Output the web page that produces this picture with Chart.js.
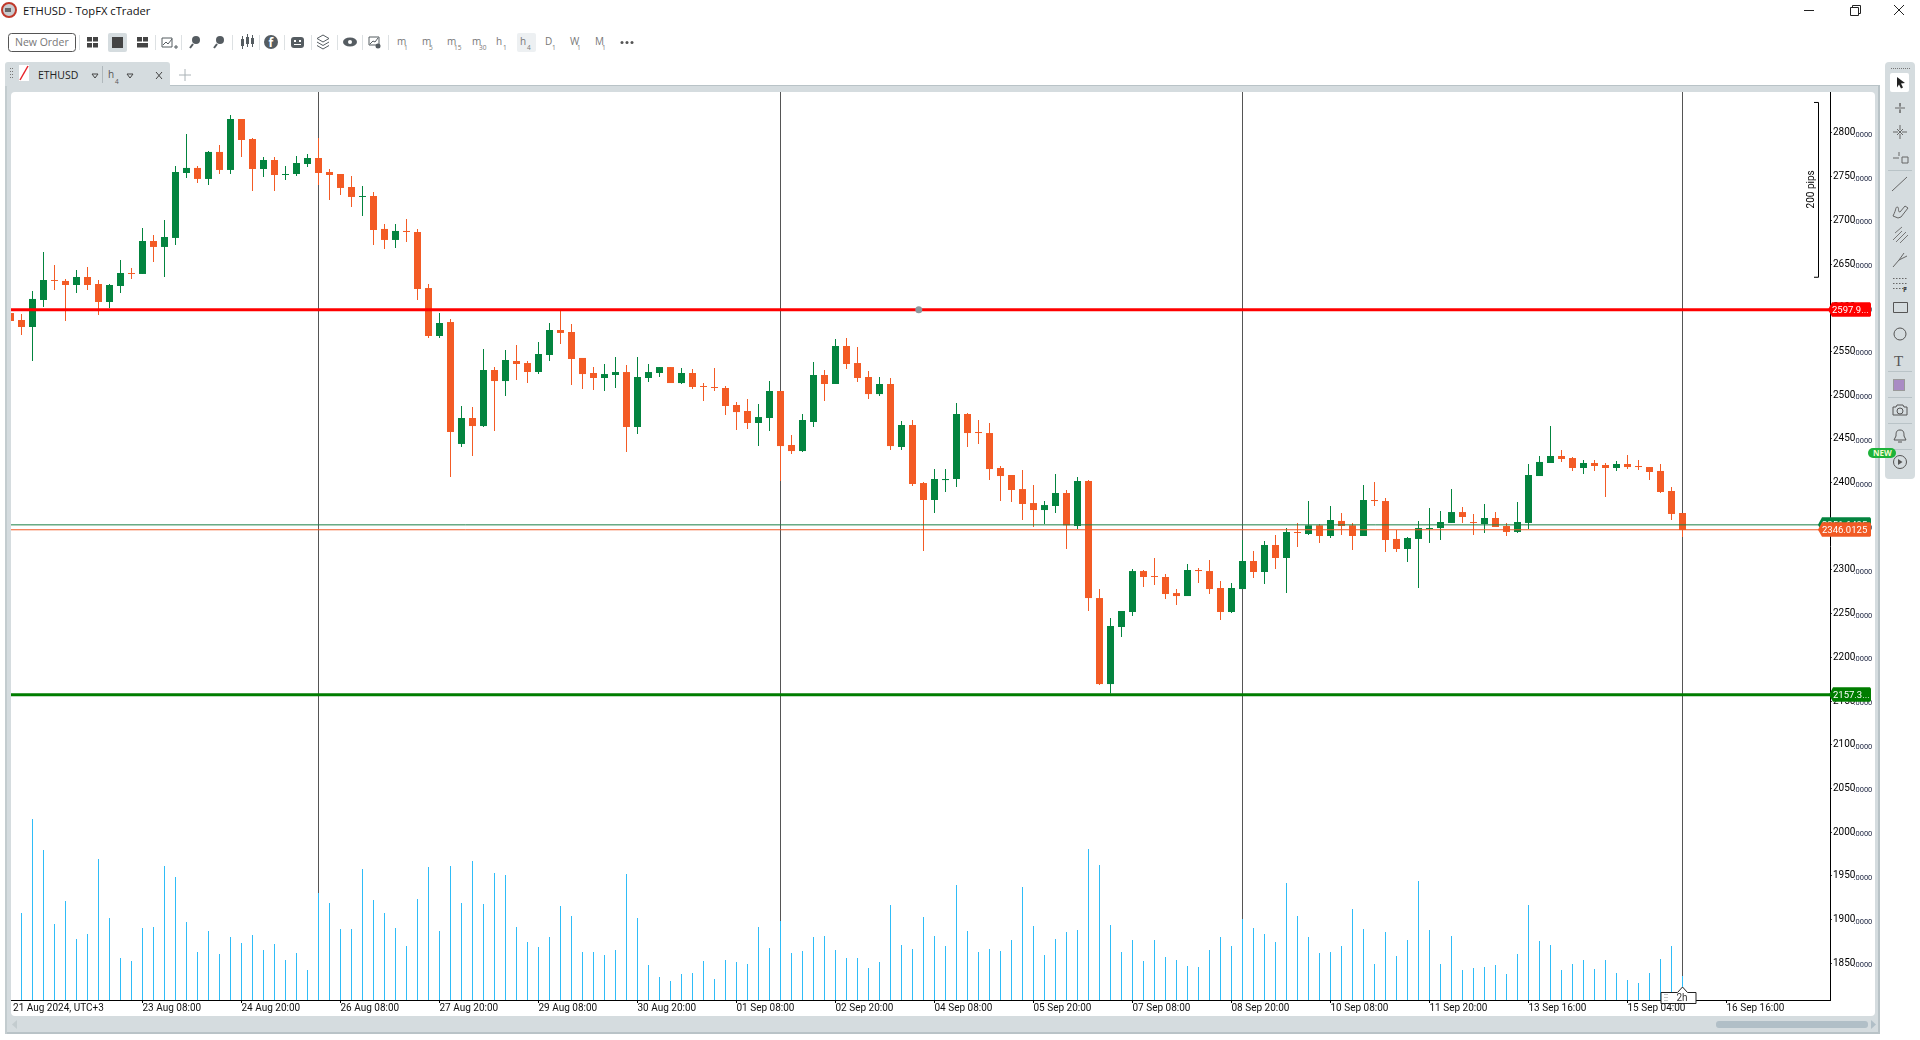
<!DOCTYPE html>
<html>
<head>
<meta charset="utf-8">
<title>ETHUSD - TopFX cTrader</title>
<script src="https://cdn.jsdelivr.net/npm/chart.js@4"></script>
<style>
    html, body { margin: 0; padding: 0; width: 1920px; height: 1040px; overflow: hidden; background: #fff; }
    #chrome, #posChart { position: absolute; left: 0; top: 0; }
    #chrome text { font-family: "Open Sans", sans-serif; }
</style>
</head>
<body>
<svg id="chrome" width="1920" height="1040"></svg>
<canvas id="posChart" width="1920" height="1040"></canvas>
<script>
// one value per 4h candle
const opens = [2594.0,2586.0,2578.0,2608.9,2631.8,2630.7,2626.1,2635.2,2627.2,2606.6,2624.9,2639.8,2638.7,2676.4,2669.6,2679.9,2754.2,2760.0,2747.4,2778.3,2757.7,2816.0,2793.1,2758.8,2769.1,2751.9,2753.1,2764.5,2771.4,2755.4,2753.1,2738.2,2726.8,2727.9,2690.2,2677.6,2687.9,2686.7,2622.6,2567.7,2583.7,2444.2,2473.9,2464.7,2528.8,2516.2,2539.1,2536.8,2526.5,2546.0,2574.6,2572.3,2542.6,2525.4,2519.7,2523.1,2526.5,2463.6,2519.7,2525.4,2532.2,2513.9,2525.4,2510.5,2509.4,2508.2,2488.8,2481.9,2468.2,2473.9,2504.8,2443.0,2436.1,2469.3,2523.1,2512.8,2556.3,2536.8,2520.8,2501.3,2512.8,2440.7,2465.9,2399.5,2380.1,2402.9,2404.1,2478.5,2457.9,2456.7,2416.7,2408.7,2392.6,2376.6,2368.6,2373.2,2388.1,2350.3,2401.8,2267.9,2169.5,2234.8,2251.9,2298.8,2293.1,2292.0,2273.6,2270.2,2300.0,2298.8,2279.4,2251.9,2278.2,2310.3,2297.7,2328.6,2313.7,2343.5,2341.2,2351.1,2338.9,2356.1,2351.1,2338.9,2380.1,2378.9,2335.5,2324.0,2335.5,2346.9,2348.0,2353.8,2366.3,2354.9,2352.6,2359.5,2350.3,2343.5,2353.8,2407.5,2422.4,2430.4,2428.1,2416.7,2422.4,2420.1,2416.7,2421.3,2419.0,2417.8,2413.3,2390.4,2365.2];
const highs = [2594.0,2592.9,2619.2,2663.8,2649.0,2632.9,2643.2,2646.7,2631.8,2627.2,2654.7,2645.5,2691.3,2683.3,2700.5,2762.2,2798.9,2762.2,2779.4,2786.3,2820.6,2816.0,2794.3,2772.5,2772.5,2762.2,2773.7,2776.0,2794.3,2758.8,2753.1,2750.8,2739.4,2732.5,2695.9,2695.9,2701.6,2690.2,2627.2,2594.0,2587.2,2487.6,2486.5,2552.9,2532.3,2551.7,2557.4,2539.1,2560.9,2582.6,2597.5,2581.5,2542.6,2532.3,2535.7,2543.7,2534.5,2543.7,2535.7,2532.2,2532.2,2531.1,2530.0,2513.9,2531.1,2510.5,2492.2,2495.6,2489.9,2516.2,2504.8,2454.4,2478.5,2538.0,2528.8,2564.3,2565.4,2555.1,2527.7,2520.8,2519.7,2470.5,2471.6,2400.7,2415.5,2415.5,2491.0,2479.6,2471.6,2468.2,2419.0,2408.7,2414.4,2397.2,2378.9,2409.8,2391.5,2406.4,2402.9,2278.2,2245.0,2253.1,2301.1,2300.0,2313.7,2295.4,2278.2,2306.8,2302.3,2311.4,2287.4,2285.1,2334.3,2321.7,2333.2,2340.0,2348.0,2353.8,2378.9,2352.6,2373.2,2365.2,2353.8,2397.2,2400.7,2382.4,2345.8,2337.7,2356.1,2370.9,2367.5,2392.7,2372.1,2364.1,2375.5,2366.3,2353.8,2377.8,2421.3,2430.4,2464.8,2437.3,2429.3,2425.8,2425.8,2422.4,2424.7,2431.6,2425.8,2417.8,2421.3,2395.0,2365.2];
const lows = [2584.9,2568.9,2539.1,2600.9,2620.4,2584.9,2616.9,2620.4,2591.8,2599.8,2616.9,2632.9,2638.7,2652.4,2635.2,2671.8,2748.5,2742.8,2740.5,2753.1,2753.1,2772.5,2733.6,2749.7,2733.6,2746.2,2750.8,2761.1,2740.5,2723.3,2729.1,2715.3,2705.0,2671.8,2667.3,2668.4,2675.3,2608.9,2565.4,2565.4,2406.4,2440.7,2430.4,2463.6,2459.0,2499.1,2517.4,2513.9,2524.2,2539.1,2558.6,2511.7,2507.1,2505.9,2504.8,2508.2,2435.0,2455.6,2515.1,2520.8,2513.9,2512.8,2507.1,2493.3,2504.8,2477.3,2460.2,2461.3,2441.8,2459.0,2401.8,2432.7,2435.0,2463.6,2493.3,2512.8,2530.0,2515.1,2495.6,2499.1,2437.3,2437.3,2396.1,2321.7,2365.2,2389.2,2394.9,2440.7,2444.1,2402.9,2378.9,2377.8,2357.2,2349.2,2352.6,2365.2,2324.0,2346.9,2253.1,2168.4,2158.8,2223.3,2247.3,2280.5,2282.8,2266.8,2259.9,2270.2,2285.1,2272.5,2242.8,2250.8,2278.2,2290.8,2284.0,2301.1,2273.7,2326.3,2340.0,2330.9,2336.6,2340.0,2322.9,2338.9,2373.2,2320.6,2320.6,2309.1,2279.4,2330.9,2334.3,2353.8,2353.8,2340.0,2342.3,2349.2,2338.9,2342.3,2346.9,2407.5,2422.4,2423.6,2413.3,2409.8,2413.3,2383.5,2413.3,2415.6,2414.4,2403.0,2388.1,2357.2,2337.7];
const closes = [2584.9,2578.0,2610.1,2631.8,2630.7,2626.1,2635.2,2626.1,2606.6,2626.1,2639.8,2638.7,2676.4,2669.6,2681.0,2755.4,2760.0,2747.4,2778.3,2757.7,2816.0,2792.0,2758.8,2769.1,2751.9,2753.1,2765.7,2771.4,2754.2,2751.9,2737.1,2726.8,2727.9,2689.0,2677.6,2687.9,2686.7,2621.5,2567.7,2582.6,2457.9,2473.9,2464.7,2528.8,2516.2,2540.3,2535.7,2526.5,2547.1,2574.6,2571.2,2541.4,2524.2,2519.7,2524.2,2526.5,2463.6,2520.8,2526.5,2532.2,2513.9,2525.4,2509.4,2509.4,2508.2,2487.6,2480.7,2468.2,2475.0,2504.8,2441.8,2436.1,2471.6,2523.1,2512.8,2556.3,2535.7,2519.7,2501.3,2512.8,2441.8,2465.9,2398.4,2380.1,2404.1,2404.1,2478.5,2456.7,2456.7,2415.5,2407.5,2391.5,2375.5,2368.6,2374.3,2388.1,2351.1,2401.8,2267.9,2169.5,2235.9,2253.1,2298.8,2292.0,2292.0,2272.5,2270.2,2300.0,2298.8,2278.2,2251.9,2279.4,2310.3,2297.7,2328.6,2313.7,2343.5,2342.3,2351.1,2338.9,2357.2,2350.3,2338.9,2380.1,2378.9,2334.3,2324.0,2336.6,2348.0,2348.0,2354.9,2366.3,2360.6,2353.8,2359.5,2349.2,2343.5,2354.9,2408.7,2423.6,2430.4,2427.0,2416.7,2422.4,2419.0,2416.7,2421.3,2417.8,2417.8,2412.1,2389.2,2364.1,2345.8];
const volumes = [0,87,181,150,76,99,61,66,141,82,42,39,72,73,134,123,78,48,69,46,63,57,65,50,56,40,47,30,107,97,71,71,131,100,87,72,54,101,133,69,134,97,139,96,127,125,73,58,53,63,94,84,48,48,45,50,126,82,35,23,19,26,27,39,21,40,38,36,73,52,79,47,49,63,64,50,42,42,32,38,95,55,51,83,64,54,115,69,48,51,49,60,113,74,45,61,68,70,151,135,75,48,60,39,60,43,40,34,33,50,63,54,81,72,66,58,117,84,63,47,48,54,91,71,36,68,44,60,119,70,36,64,30,32,33,35,26,46,95,59,55,30,36,40,31,40,27,20,17,27,41,54,24];

const xTickPositions = [0.23,12,21,30,39,48,57,66,75,84,93,102,111,120,129,138,147,156];
const xTickLabels = ['21 Aug 2024, UTC+3','23 Aug 08:00','24 Aug 20:00','26 Aug 08:00','27 Aug 20:00','29 Aug 08:00','30 Aug 20:00','01 Sep 08:00','02 Sep 20:00','04 Sep 08:00','05 Sep 20:00','07 Sep 08:00','08 Sep 20:00','10 Sep 08:00','11 Sep 20:00','13 Sep 16:00','15 Sep 04:00','16 Sep 16:00'];
const yTicks = [2800,2750,2700,2650,2600,2550,2500,2450,2400,2350,2300,2250,2200,2150,2100,2050,2000,1950,1900,1850];

const verticalLines = [28,70,112,152];
const levelPrices = [2597.9,2157.3,2351.6495,2346.0125];
const levelColors = ['#ff0000','#007d00','#1b7f45','#f15a24'];
const levelWidths = [3,3,1,1];
const tagLabels = ['2597.9...','2157.3...','2351.6495','2346.0125'];
const tagLefts = [1828,1829,1818,1818];
const handlePoint = [82.57,2597.9];
const pipsRange = [2835.5,2635.5];

const GREEN = '#03843f', ORANGE = '#f35b25', CYAN = '#2fbcf7';
const xMin = 0.04545, xMax = 165.409, yMin = 1808, yMax = 2846.9, volMax = 908;

const candleColors = closes.map((c, i) => c >= opens[i] ? GREEN : ORANGE);

// labels, tags and the little scale on the right
const overlayPlugin = {
    id: 'overlay',
    afterDraw(chart) {
        const ctx = chart.ctx, y = chart.scales.y, area = chart.chartArea;
        ctx.save();
        ctx.fillStyle = '#1c2440';
        ctx.font = '7.5px Roboto';
        ctx.textAlign = 'left';
        ctx.textBaseline = 'alphabetic';
        yTicks.forEach(v => ctx.fillText('.0000', area.right + 23.5, y.getPixelForValue(v) + 4));

        // 200 pips bracket
        const top = y.getPixelForValue(pipsRange[0]), bottom = y.getPixelForValue(pipsRange[1]);
        ctx.strokeStyle = '#000';
        ctx.lineWidth = 1;
        ctx.beginPath();
        ctx.moveTo(1814, top + 0.5); ctx.lineTo(1818.5, top + 0.5); ctx.lineTo(1818.5, bottom + 0.5); ctx.lineTo(1814, bottom + 0.5);
        ctx.stroke();
        ctx.save();
        ctx.translate(1811, (top + bottom) / 2);
        ctx.rotate(-Math.PI / 2);
        ctx.fillStyle = '#000';
        ctx.font = '10px Roboto';
        ctx.textAlign = 'center';
        ctx.textBaseline = 'middle';
        ctx.fillText('200 pips', 0, 0);
        ctx.restore();

        // price tags, the orange one sits over the green one
        [0, 1, 2, 3].forEach(i => {
            const py = y.getPixelForValue(levelPrices[i]), l = tagLefts[i], r = 1871;
            ctx.fillStyle = levelColors[i] === '#1b7f45' ? GREEN : levelColors[i];
            ctx.beginPath();
            ctx.moveTo(l, py);
            ctx.lineTo(l + 4, py - 7.5);
            ctx.lineTo(r - 1, py - 7.5);
            ctx.lineTo(r, py - 6);
            ctx.lineTo(r, py + 6);
            ctx.lineTo(r - 1, py + 7);
            ctx.lineTo(l + 4, py + 7);
            ctx.closePath();
            ctx.fill();
            ctx.fillStyle = '#fff';
            ctx.font = '9.5px Roboto';
            ctx.textAlign = 'left';
            ctx.textBaseline = 'middle';
            ctx.fillText(tagLabels[i], l + 4, py + 0.5);
        });

        // countdown badge under the last candle
        const bx = chart.scales.x.getPixelForValue(152);
        ctx.fillStyle = '#fff';
        ctx.strokeStyle = '#222';
        ctx.beginPath();
        ctx.moveTo(bx - 21.5, 992.5);
        ctx.lineTo(bx - 5, 992.5);
        ctx.lineTo(bx, 987);
        ctx.lineTo(bx + 5, 992.5);
        ctx.lineTo(bx + 13.5, 992.5);
        ctx.lineTo(bx + 13.5, 1003.5);
        ctx.lineTo(bx - 21.5, 1003.5);
        ctx.closePath();
        ctx.fill();
        ctx.stroke();
        ctx.fillStyle = '#333';
        ctx.font = '10px Roboto';
        ctx.textAlign = 'left';
        ctx.fillText('2h', bx - 6, 998.5);
        ctx.fillStyle = '#888';
        for (let r = 0; r < 3; r++) {
            ctx.fillRect(bx - 18, 994 + r * 3, 1, 1);
            ctx.fillRect(bx - 16, 994 + r * 3, 1, 1);
        }
        ctx.restore();
    }
};

new Chart(document.getElementById('posChart').getContext('2d'), {
    type: 'bar',
    plugins: [overlayPlugin],
    data: {
        datasets: [
            ...levelPrices.map((p, i) => ({
                type: 'line', order: 0, data: [{ x: xMin, y: p }, { x: xMax, y: p }],
                borderColor: levelColors[i], borderWidth: levelWidths[i], pointRadius: 0
            })),
            {
                type: 'line', order: -1, data: [{ x: handlePoint[0], y: handlePoint[1] }],
                pointRadius: 3.5, pointBackgroundColor: '#8d979c', pointBorderWidth: 0, showLine: false
            },
            {
                order: 1, data: closes.map((c, i) => ({ x: i, y: [opens[i], c] })),
                backgroundColor: candleColors, barThickness: 7, grouped: false, inflateAmount: 0
            },
            {
                order: 2, data: highs.map((h, i) => ({ x: i, y: [lows[i], h] })),
                backgroundColor: candleColors, barThickness: 1, grouped: false, inflateAmount: 0
            },
            {
                order: 3, yAxisID: 'vol', data: volumes.map((v, i) => ({ x: i, y: v })),
                backgroundColor: CYAN, barThickness: 1, grouped: false, inflateAmount: 0
            },
            ...verticalLines.map(v => ({
                type: 'line', order: 4, data: [{ x: v, y: yMin }, { x: v, y: yMax }],
                borderColor: '#555', borderWidth: 1, pointRadius: 0
            }))
        ]
    },
    options: {
        responsive: false,
        animation: false,
        events: [],
        layout: { autoPadding: false, padding: { left: 11, top: 92, right: 45, bottom: 24 } },
        plugins: { legend: { display: false }, tooltip: { enabled: false } },
        scales: {
            x: {
                type: 'linear', min: xMin, max: xMax, offset: false,
                border: { color: '#000', width: 1 },
                grid: {
                    offset: false, drawOnChartArea: false, tickLength: 3,
                    tickColor: c => c.index === 0 ? 'rgba(0,0,0,0)' : '#000'
                },
                afterBuildTicks: s => { s.ticks = xTickPositions.map(v => ({ value: v })); },
                afterFit: s => { s.height = 16; s.paddingLeft = 0; s.paddingRight = 0; },
                ticks: {
                    autoSkip: false, maxRotation: 0, minRotation: 0, align: 'start', padding: -1,
                    color: '#111', font: { family: 'Roboto', size: 10 },
                    callback: (v, i) => xTickLabels[i]
                }
            },
            y: {
                position: 'right', min: yMin, max: yMax,
                border: { color: '#000', width: 1 },
                grid: { drawOnChartArea: false, tickLength: 2, tickColor: '#444', tickWidth: 1 },
                afterBuildTicks: s => { s.ticks = yTicks.map(v => ({ value: v })); },
                afterFit: s => { s.width = 45; s.paddingTop = 0; s.paddingBottom = 0; },
                ticks: {
                    padding: 1, color: '#000', autoSkip: false, font: { family: 'Roboto', size: 10 },
                    callback: v => String(v)
                }
            },
            vol: { display: false, min: 0, max: volMax }
        }
    }
});

// window chrome around the chart
const PANEL = '#d5dcdf', ICON = '#555c61';
const toolbarSeparators = [79,155,181,232,259,284,311,337,362,388];
const timeframeLabels = [['m','1'],['m','5'],['m','15'],['m','30'],['h','1'],['h','4'],['D','1'],['W','1'],['M','1']];
const timeframeX = [397,422,447,472,496,520,545,570,595];
const sidebarSeparators = [170,371,397,423,449];

let s = '';
const rect = (x, y, w, h, fill, r) => `<rect x="${x}" y="${y}" width="${w}" height="${h}" fill="${fill}" rx="${r || 0}"/>`;
const text = (x, y, t, size, fill, extra) => `<text x="${x}" y="${y}" font-size="${size}" fill="${fill}" ${extra || ''}>${t}</text>`;
const line = (d, w, c) => `<path d="${d}" fill="none" stroke="${c || ICON}" stroke-width="${w || 1}"/>`;

// title bar
s += `<circle cx="9" cy="10" r="7" fill="#c9ccd0" stroke="#c0392b" stroke-width="2"/>` + rect(5, 8, 6, 4, '#666');
s += text(23, 15, 'ETHUSD - TopFX cTrader', 11.2, '#111');
s += line('M1804 10.5h10', 1, '#222') + line('M1850.5 7.5h8v8h-8zM1852.5 7.5v-2h8v8h-2', 1, '#222') + line('M1894 5l10 10M1904 5l-10 10', 1, '#222');

// toolbar
s += `<rect x="8.5" y="33.5" width="67" height="18" rx="3" fill="#fff" stroke="#555"/>`;
s += text(15, 46, 'New Order', 10.5, '#777');
toolbarSeparators.forEach(x => { s += rect(x, 35, 1, 15, '#dde1e3'); });
s += rect(108, 33, 19, 19, '#d5dcdf', 2);
s += rect(87, 37, 5, 4.5, '#444') + rect(93, 37, 5, 4.5, '#444') + rect(87, 43, 5, 4.5, '#444') + rect(93, 43, 5, 4.5, '#444');
s += rect(112, 37, 11, 11, '#444');
s += rect(137, 37, 5, 4.5, '#444') + rect(143, 37, 5, 4.5, '#444') + rect(137, 43, 11, 4.5, '#444');
s += line('M162 38h10v9h-10zM163 45l3-3 2 2 4-5', 1) + line('M174 47h4M176 45v4', 1);
s += `<circle cx="196" cy="40" r="4" fill="${ICON}"/>` + line('M193 44l-3 4', 2);
s += `<circle cx="220" cy="40" r="4" fill="${ICON}"/>` + line('M217 44l-3 4', 2);
s += rect(241, 39, 3, 7, ICON) + rect(246, 37, 3, 7, ICON) + rect(251, 38, 3, 6, ICON) + line('M242.5 36v13M247.5 34v13M252.5 35v12', 1);
s += `<circle cx="271" cy="42" r="7" fill="${ICON}"/>` + text(268.5, 47, 'f', 12, '#fff', 'font-weight="700"');
s += rect(291, 37, 13, 11, ICON, 3) + rect(294, 40, 2, 2, '#fff') + rect(299, 40, 2, 2, '#fff') + rect(294, 44, 7, 1, '#fff');
s += line('M323 35l6 3.5-6 3.5-6-3.5zM317 42l6 3.5 6-3.5M317 45.5l6 3.5 6-3.5', 1);
s += `<ellipse cx="350" cy="42" rx="7" ry="4.5" fill="${ICON}"/><circle cx="350" cy="42" r="2" fill="#fff"/>`;
s += line('M369 37h10v8h-10zM370 44l3-3 2 1 3-4', 1) + `<circle cx="378" cy="46" r="2.5" fill="${ICON}"/>`;
s += rect(517, 33, 19, 19, '#edf0f2', 2);
timeframeLabels.forEach((t, i) => {
    s += text(timeframeX[i], 45, t[0], 10, '#777');
    s += text(timeframeX[i] + 7, 50, t[1], 6.5, '#777');
});
[622, 627, 632].forEach(x => { s += `<circle cx="${x}" cy="42.5" r="1.5" fill="#555"/>`; });

// tab strip and chart panel
s += rect(5, 62, 165, 30, PANEL, 3);
s += rect(5, 86, 1875, 948, PANEL, 3) + rect(5, 1032, 1875, 2, '#b9c3c7') + rect(1878, 86, 2, 948, '#b9c3c7') + rect(170, 85, 1710, 1, '#b9c3c7') + rect(5, 86, 2, 948, '#c3cccf');
s += rect(11, 92, 1864, 924, '#fff', 4);
[68, 71, 74, 77].forEach(y => { s += rect(10, y, 1, 1, '#777') + rect(12, y, 1, 1, '#777'); });
s += rect(19, 65, 10, 16, '#fff') + line('M20 80l8-14', 1.5, '#e8232a');
s += text(38, 79, 'ETHUSD', 10.5, '#222');
s += line('M92 74h6l-3 4z', 1, '#444') + rect(102, 66, 1, 17, '#b0b8bc');
s += text(108, 78, 'h', 10, '#555') + text(115, 84, '4', 6.5, '#555');
s += line('M127 74h6l-3 4z', 1, '#444');
s += line('M156 72l6 7M162 72l-6 7', 1, '#444');
s += line('M185 69v12M179 75h12', 1, '#aab2b6');

// scrollbar
s += rect(1716, 1021, 152, 7, '#b1bfc7', 3);
s += `<path d="M1871 1020l5 4.5-5 4.5z" fill="#b1bfc7"/><path d="M17 1020l-5 4.5 5 4.5z" fill="#c3cccf"/>`;

// drawing tools on the right
s += rect(1885, 62, 30, 417, PANEL, 4);
for (let x = 1891; x < 1910; x += 2) s += rect(x, 68, 1, 1, '#777');
sidebarSeparators.forEach(y => { s += rect(1888, y, 24, 1, '#b9c3c7'); });
s += rect(1890, 73, 19, 19, '#fff', 2) + '<path d="M1897 77l8 6-4 .5 2 4-2 1-2-4-2 3z" fill="#222"/>';
s += line('M1900 103v10M1895 108h4M1901 108h4M1900 103v3M1900 110v3', 1, '#666');
s += line('M1900 125v5M1900 134v5M1893 132h5M1902 132h5M1897 129l6 6M1903 129l-6 6', 1, '#666');
s += line('M1893 158h6M1899 152v4M1902 157h6v6h-6z', 1, '#666');
s += line('M1892 191l15-14', 1, '#666');
s += line('M1893 216c4-8 2-8 4-9 3 0 0 5 3 5l5-6 3 2-7 9-3 1z', 1, '#666');
s += line('M1893 240l9-9M1896 242l10-10M1900 243l8-8M1895 233l7-6', 1, '#777');
s += line('M1893 267l6-7M1899 260l5-7M1899 260l8-4', 1, '#666');
[278, 283, 288].forEach(y => { for (let x = 1893; x < 1908; x += 3) s += rect(x, y, 1.5, 1, '#666'); });
s += text(1903, 292, 'F', 7, '#444', 'font-weight="700"');
s += line('M1893.5 302.5h14v10h-14z', 1, '#555');
s += `<circle cx="1900" cy="334" r="6" fill="none" stroke="#555"/>`;
s += text(1894, 366, 'T', 15, '#555', 'style="font-family:\'Liberation Serif\'"');
s += `<rect x="1893.5" y="379.5" width="11" height="11" fill="#a98bc4" stroke="#999"/>`;
s += line('M1893 407h3l1-2h6l1 2h3v8h-14z', 1, '#555') + `<circle cx="1900" cy="411" r="3" fill="none" stroke="#555"/>`;
s += line('M1900 430c-4 0-4 3-4 6l-2 4h12l-2-4c0-3 0-6-4-6zM1898 442h4', 1, '#555');
s += `<circle cx="1900" cy="462" r="6.5" fill="none" stroke="#555"/><path d="M1898 459l4.5 3-4.5 3z" fill="#555"/>`;
s += rect(1868, 448, 28, 10, '#1db33a', 5) + text(1873, 456, 'NEW', 8, '#f4fbd0', 'font-weight="700"');

document.getElementById('chrome').innerHTML = s;
</script>
</body>
</html>
